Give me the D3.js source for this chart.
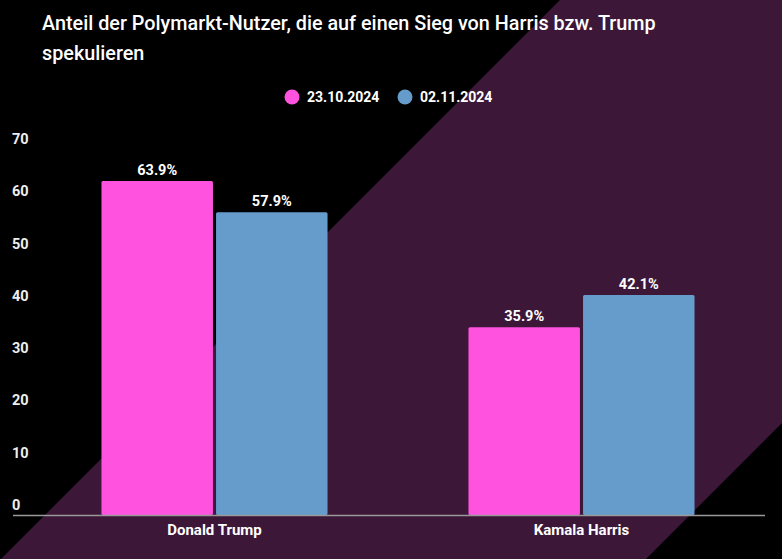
<!DOCTYPE html>
<html>
<head>
<meta charset="utf-8">
<script src="https://cdn.jsdelivr.net/npm/d3@7"></script>
<style>
html,body{margin:0;padding:0;background:#000;}
svg{display:block;}
text{font-family:Roboto,"Noto Sans",sans-serif;}
</style>
</head>
<body>
<svg id="chart" width="782" height="559"></svg>
<script>
const titleLines = ["Anteil der Polymarkt-Nutzer, die auf einen Sieg von Harris bzw. Trump", "spekulieren"];
const categories = ["Donald Trump", "Kamala Harris"];
const seriesNames = ["23.10.2024", "02.11.2024"];
const seriesColors = ["#ff52df", "#659ccc"];
const values2310 = [63.9, 35.9];
const values0211 = [57.9, 42.1];
const yTicks = [0, 10, 20, 30, 40, 50, 60, 70];

const W = 782, H = 559;
const svg = d3.select("#chart");

// background band
svg.append("rect").attr("width", W).attr("height", H).attr("fill", "#000");
svg.append("polygon")
  .attr("points", [[560,0],[1205,0],[1205 - H, H],[560 - H, H]].map(p => p.join(",")).join(" "))
  .attr("fill", "#3c1737");

// title
svg.append("g").selectAll("text").data(titleLines).join("text")
  .attr("x", 42).attr("y", (d, i) => 30 + i * 30)
  .attr("fill", "#ffffff").attr("font-size", 19.8).attr("font-weight", 500)
  .text(d => d);

// legend
const legendX = [292, 405];
const lg = svg.append("g").selectAll("g").data(seriesNames).join("g")
  .attr("transform", (d, i) => `translate(${legendX[i]},97)`);
lg.append("circle").attr("r", 7.5).attr("fill", (d, i) => seriesColors[i]);
lg.append("text").attr("x", 15).attr("y", 5).attr("fill", "#fff")
  .attr("font-size", 14).attr("font-weight", 700).text(d => d);

// scales
const y = d3.scaleLinear().domain([0, 70]).range([515, 149]);
const x0 = d3.scaleBand().domain(categories).range([31, 765]).paddingInner(0.384).paddingOuter(0.192);
const x1 = d3.scaleBand().domain(seriesNames).range([0, x0.bandwidth()]).paddingInner(0.027);

// y tick labels
svg.append("g").selectAll("text").data(yTicks).join("text")
  .attr("x", 12).attr("y", d => y(d) - 5)
  .attr("fill", "#eeeeee").attr("font-size", 14.5).attr("font-weight", 700)
  .text(d => d);

// bars
const data = categories.map((c, i) => ({cat: c, vals: [values2310[i], values0211[i]]}));
const groups = svg.append("g").selectAll("g").data(data).join("g")
  .attr("transform", d => `translate(${x0(d.cat)},0)`);
groups.selectAll("rect").data(d => d.vals.map((v, j) => ({s: seriesNames[j], v, j}))).join("rect")
  .attr("x", d => x1(d.s)).attr("width", x1.bandwidth())
  .attr("y", d => y(d.v)).attr("height", d => y(0) - y(d.v))
  .attr("rx", 1.5)
  .attr("fill", d => seriesColors[d.j]);
groups.selectAll("text").data(d => d.vals.map((v, j) => ({s: seriesNames[j], v, j}))).join("text")
  .attr("x", d => x1(d.s) + x1.bandwidth() / 2).attr("y", d => y(d.v) - 6)
  .attr("text-anchor", "middle").attr("fill", "#fff")
  .attr("font-size", 14.5).attr("font-weight", 700)
  .text(d => d.v.toFixed(1) + "%");

// axis baseline
svg.append("line").attr("x1", 13).attr("x2", 765).attr("y1", 515.5).attr("y2", 515.5)
  .attr("stroke", "#999").attr("stroke-width", 1.5);

// category labels
svg.append("g").selectAll("text").data(categories).join("text")
  .attr("x", d => x0(d) + x0.bandwidth() / 2).attr("y", 535)
  .attr("text-anchor", "middle").attr("fill", "#fff")
  .attr("font-size", 15).attr("font-weight", 700)
  .text(d => d);
</script>
</body>
</html>
